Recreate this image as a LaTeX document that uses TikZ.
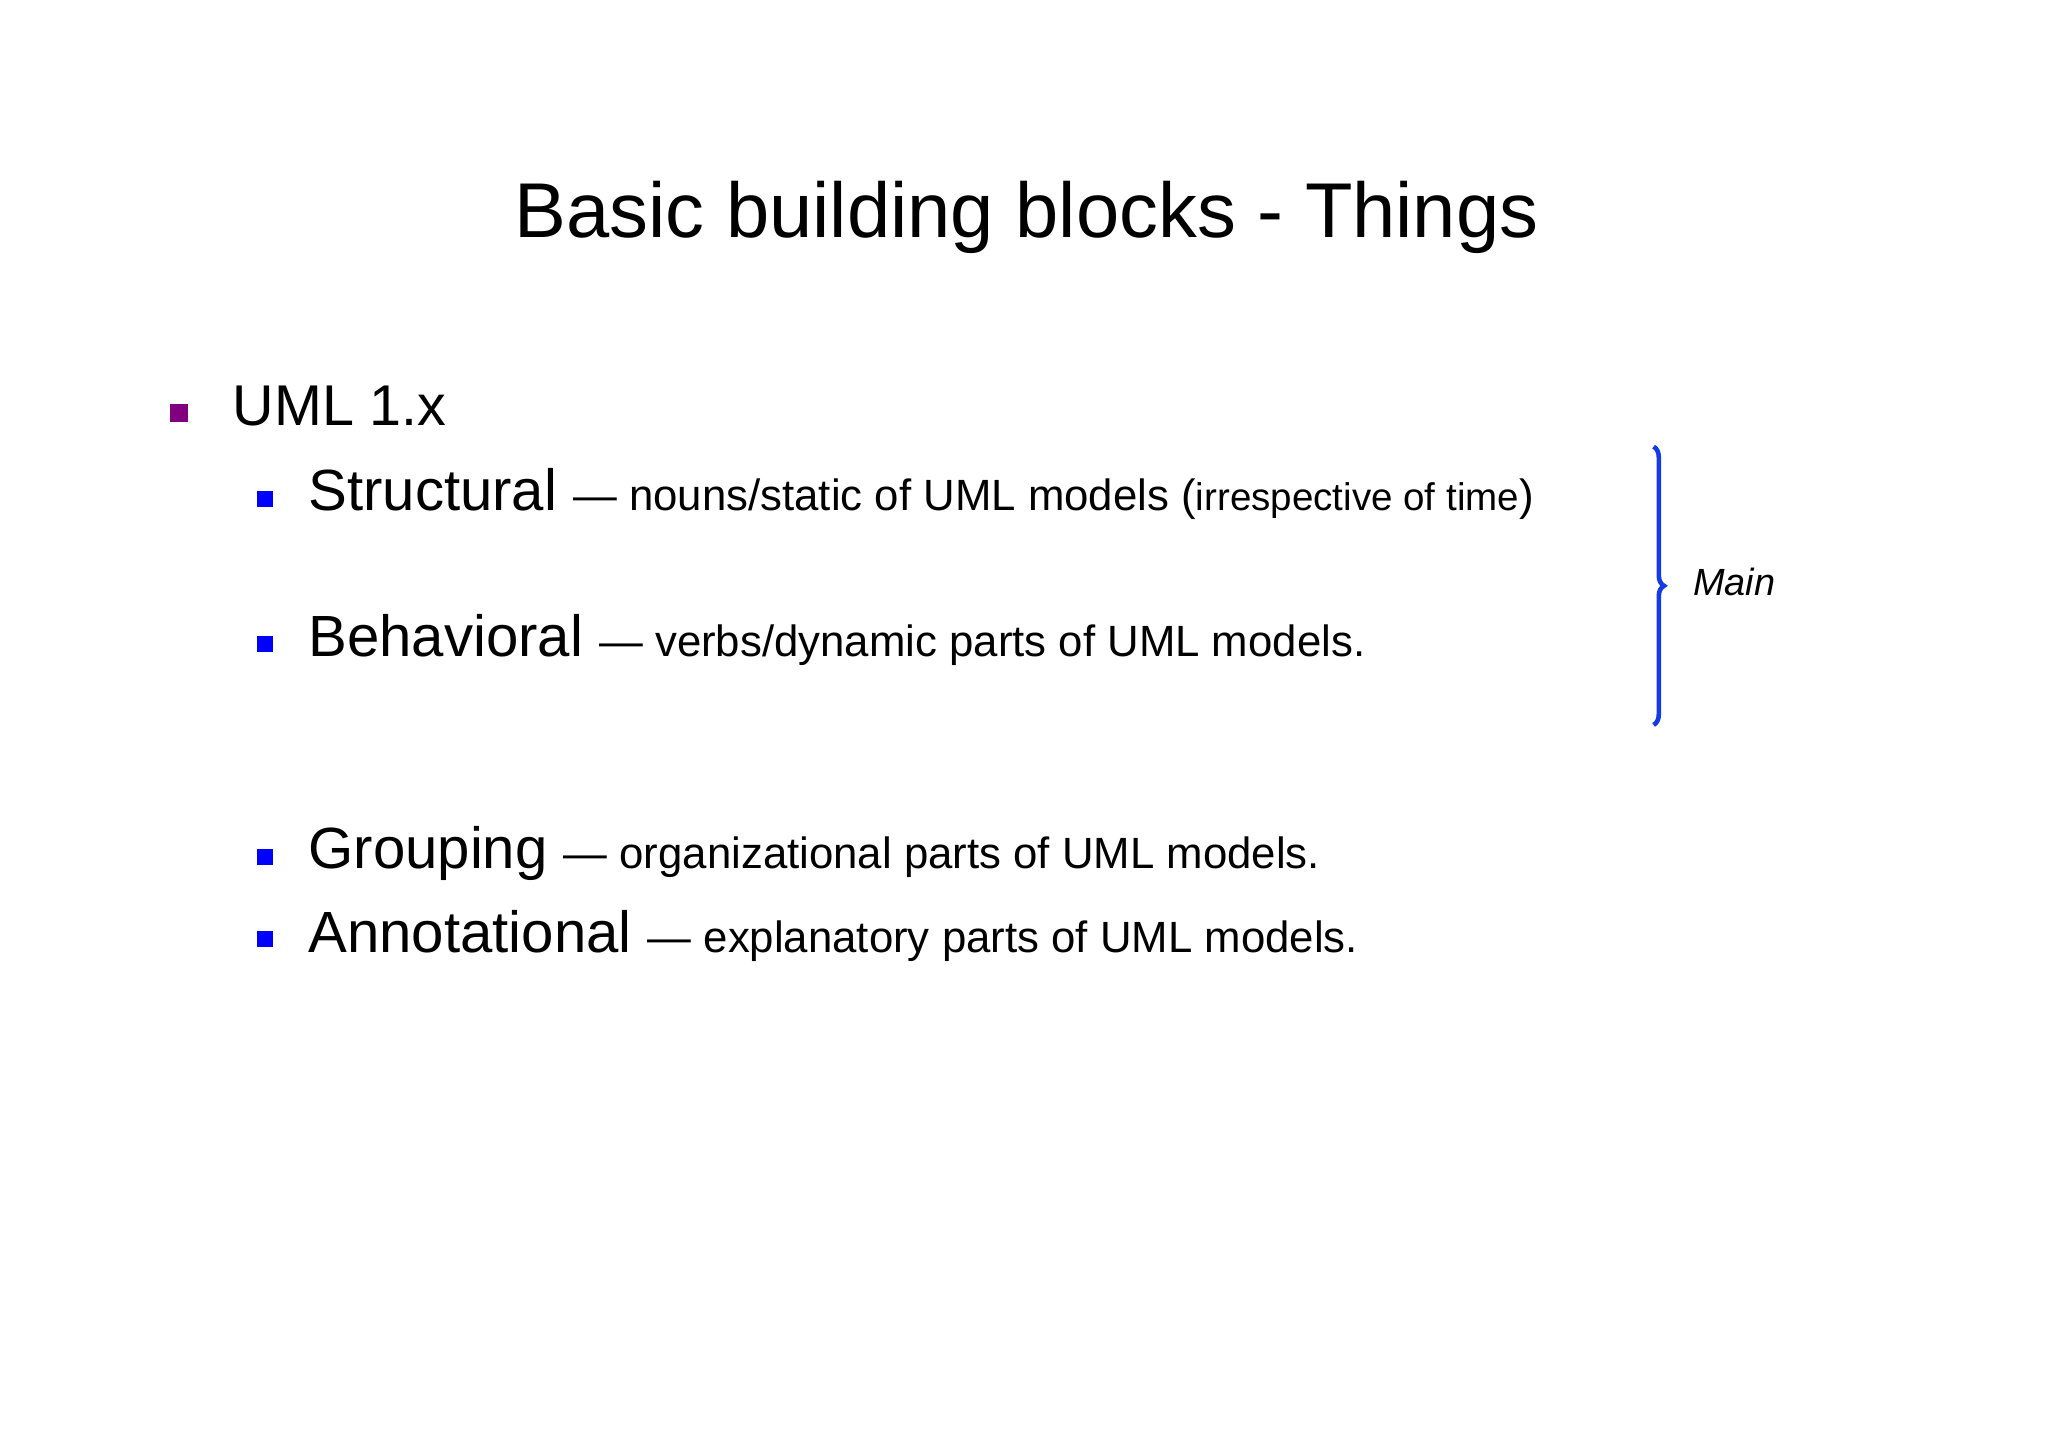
\documentclass[tikz,border=0pt]{standalone}
\usepackage{fontspec}
\setmainfont{Liberation Sans}
\usetikzlibrary{decorations.pathreplacing}
\definecolor{bblue}{RGB}{0,0,255}
\definecolor{bpurple}{RGB}{128,0,128}
\definecolor{brc}{RGB}{20,60,230}
\tikzset{txt/.style={anchor=base west,inner sep=0pt},
sq/.style={minimum size=#1,inner sep=0pt,draw=none}}
\newcommand{\bigf}{\fontsize{44.5}{50}\selectfont}
\newcommand{\smf}{\fontsize{33.5}{38}\selectfont}
\begin{document}
\begin{tikzpicture}[x=1pt,y=-1pt]
\useasboundingbox[fill=white] (0,0) rectangle (1568,1108);
\node[anchor=base,inner sep=0pt,font=\fontsize{59.5}{66}\selectfont] (title) at (786,182) {Basic building blocks - Things};
\node[sq=14pt,fill=bpurple] (b0) at (137,316) {};
\node[txt,font=\fontsize{44}{50}\selectfont] (uml) at (178,326) {UML 1.x};
\node[sq=12pt,fill=bblue] (b1) at (203,382) {};
\node[txt] (s) at (236,391) {\bigf Structural \smf — nouns/static of UML models (\fontsize{29.5}{34}\selectfont irrespective of time\smf)};
\node[sq=12pt,fill=bblue] (b2) at (203,493) {};
\node[txt] (b) at (236,503) {\bigf Behavioral \smf — verbs/dynamic parts of UML models.};
\node[sq=12pt,fill=bblue] (b3) at (203,656) {};
\node[txt] (g) at (236,665) {\bigf Grouping \smf — organizational parts of UML models.};
\node[sq=12pt,fill=bblue] (b4) at (203,719) {};
\node[txt] (a) at (236,729) {\bigf Annotational \smf — explanatory parts of UML models.};
\coordinate (bt) at (1266,342);
\coordinate (bb) at (1266,555);
\draw[brc,line width=3.5pt,decorate,decoration={brace,amplitude=8pt}] (bt) -- (bb);
\node[txt,font=\itshape\fontsize{29}{34}\selectfont] (main) at (1296,456) {Main};
\end{tikzpicture}
\end{document}
